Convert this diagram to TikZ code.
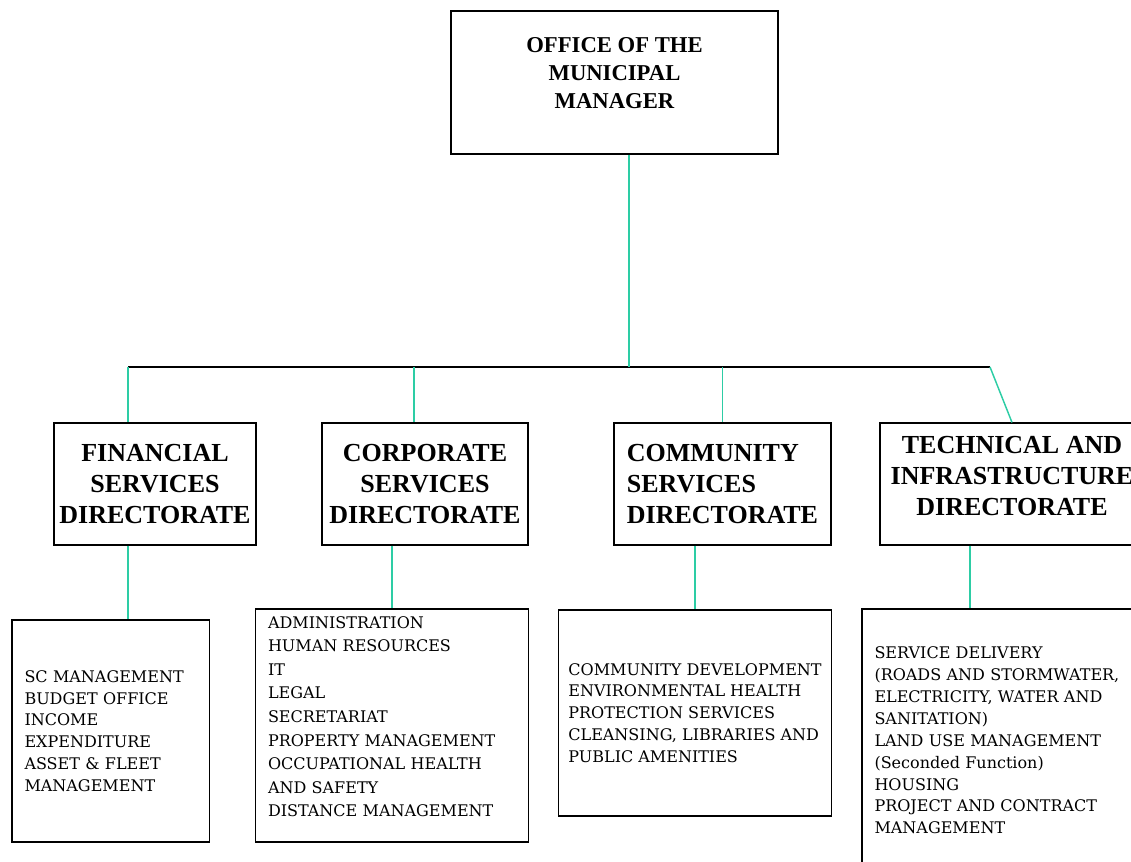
\documentclass[tikz,border=0pt]{standalone}
\usepackage{fontspec}
\setmainfont{Liberation Serif}
\newfontfamily\listfont{DejaVu Serif}
\usepackage{tikz}
\usetikzlibrary{positioning}

\definecolor{linkteal}{RGB}{45,205,165}
% extra depth under the last line, lifts the text inside its box
\newcommand{\liftby}[1]{\rule[-#1]{0pt}{#1}}

\tikzset{
  boxwh/.style 2 args={minimum width=#1*0.75pt, minimum height=#2*0.75pt},
  topbox/.style={draw, line width=0.8pt, inner sep=0pt, align=center,
    font=\bfseries\fontsize{17}{21}\selectfont},
  headbox/.style={draw, line width=0.8pt, inner sep=0pt, align=center,
    font=\bfseries\fontsize{19.5}{23.5}\selectfont},
  listbox/.style={draw, line width=0.8pt, inner xsep=9.4pt, inner ysep=0pt, align=left,
    font=\listfont\fontsize{12}{16.4}\selectfont},
  link/.style={linkteal, line width=1.1pt},
  busline/.style={black, line width=1pt}
}

\begin{document}
\begin{tikzpicture}[x=0.75pt, y=-0.75pt]
  \useasboundingbox (0,0) rectangle (1131,862);
  \clip (0,0) rectangle (1131,862);
  % top
  \node[topbox, boxwh={327}{143}] (mm) at (614.5,82.5)
    {OFFICE OF THE\\MUNICIPAL\\MANAGER\liftby{14pt}};
  % directorates
  \node[headbox, boxwh={202}{122}] (fin) at (155,484)
    {FINANCIAL\\SERVICES\\DIRECTORATE};
  \node[headbox, boxwh={206}{122}] (corp) at (425,484)
    {CORPORATE\\SERVICES\\DIRECTORATE};
  \node[headbox, boxwh={217}{122}, align=left] (comm) at (722.5,484)
    {COMMUNITY\\SERVICES\\DIRECTORATE};
  \node[headbox, boxwh={264}{122}] (tech) at (1012,484)
    {TECHNICAL AND\\INFRASTRUCTURE\\DIRECTORATE\liftby{12pt}};
  % functions under each directorate
  \node[listbox, boxwh={197}{222}, text width=172*0.75pt] (finl) at (110.5,731)
    {SC MANAGEMENT\\BUDGET OFFICE\\INCOME\\EXPENDITURE\\ASSET \& FLEET\\MANAGEMENT};
  \node[listbox, boxwh={273}{233}, text width=248*0.75pt,
    font=\listfont\fontsize{12}{17.7}\selectfont] (corpl) at (392,725.5)
    {ADMINISTRATION\\HUMAN RESOURCES\\IT\\LEGAL\\SECRETARIAT\\PROPERTY MANAGEMENT\\
     OCCUPATIONAL HEALTH\\AND SAFETY\\DISTANCE MANAGEMENT\liftby{13.5pt}};
  \node[listbox, boxwh={273}{206}, inner xsep=0pt] (comml) at (695,713)
    {COMMUNITY DEVELOPMENT\\ENVIRONMENTAL HEALTH\\PROTECTION SERVICES\\
     CLEANSING, LIBRARIES AND\\PUBLIC AMENITIES};
  \node[listbox, boxwh={273}{263}, text width=248*0.75pt] (techl) at (998.5,740.5)
    {SERVICE DELIVERY\\(ROADS AND STORMWATER,\\ELECTRICITY, WATER AND\\SANITATION)\\
     LAND USE MANAGEMENT\\(Seconded Function)\\HOUSING\\PROJECT AND CONTRACT\\MANAGEMENT};
  % bus line and taps
  \coordinate (busL) at (128,367);
  \coordinate (busR) at (990,367);
  \coordinate (mmtap) at (629,367);
  \coordinate (corptap) at (414,367);
  \coordinate (techtap) at (970,367);
  \draw[busline] (busL) -- (busR);
  \draw[link] (mmtap |- mm.south) -- (mmtap);
  \draw[link] (busL) -- (busL |- fin.north);
  \draw[link] (corptap) -- (corptap |- corp.north);
  \draw[link] (comm.north |- busL) -- (comm.north);
  \draw[link] (busR) -- (tech.north);
  \draw[link] (busL |- fin.south) -- (busL |- finl.north);
  \draw[link] (corpl.north |- corp.south) -- (corpl.north);
  \draw[link] (comml.north |- comm.south) -- (comml.north);
  \draw[link] (techtap |- tech.south) -- (techtap |- techl.north);
\end{tikzpicture}
\end{document}
